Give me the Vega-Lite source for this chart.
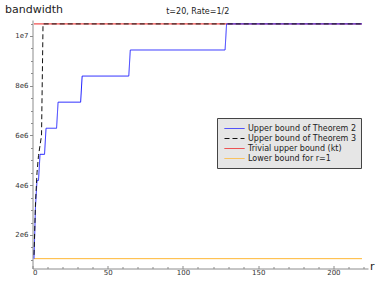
{
  "$schema": "https://vega.github.io/schema/vega-lite/v6.json",
  "width": 335.5,
  "height": 248.5,
  "autosize": {"type": "none"},
  "padding": {"left": 32.5, "top": 20, "right": 13, "bottom": 15.5},
  "background": "white",
  "config": {
    "view": {"stroke": null},
    "font": "DejaVu Sans",
    "axis": {"grid": false, "domainColor": "#8c8c8c", "tickColor": "#8c8c8c", "labelColor": "#333333", "labelFontSize": 7, "labelFont": "DejaVu Sans"}
  },
  "title": {"text": "t=20, Rate=1/2", "fontSize": 8, "fontWeight": "normal", "color": "#222222", "anchor": "middle", "baseline": "alphabetic", "offset": -19, "dx": -2.5},
  "datasets": {
    "lines": [
      {"r": 1, "v": 10485760, "s": "Trivial upper bound (kt)"},
      {"r": 219, "v": 10485760, "s": "Trivial upper bound (kt)"},
      {"r": 1, "v": 1048576, "s": "Lower bound for r=1"},
      {"r": 219, "v": 1048576, "s": "Lower bound for r=1"},
      {"r": 1, "v": 1048576, "s": "Upper bound of Theorem 2"},
      {"r": 2, "v": 3145728, "s": "Upper bound of Theorem 2"},
      {"r": 3, "v": 4194304, "s": "Upper bound of Theorem 2"},
      {"r": 4, "v": 4194304, "s": "Upper bound of Theorem 2"},
      {"r": 5, "v": 5242880, "s": "Upper bound of Theorem 2"},
      {"r": 8, "v": 5242880, "s": "Upper bound of Theorem 2"},
      {"r": 9, "v": 6291456, "s": "Upper bound of Theorem 2"},
      {"r": 16, "v": 6291456, "s": "Upper bound of Theorem 2"},
      {"r": 17, "v": 7340032, "s": "Upper bound of Theorem 2"},
      {"r": 32, "v": 7340032, "s": "Upper bound of Theorem 2"},
      {"r": 33, "v": 8388608, "s": "Upper bound of Theorem 2"},
      {"r": 64, "v": 8388608, "s": "Upper bound of Theorem 2"},
      {"r": 65, "v": 9437184, "s": "Upper bound of Theorem 2"},
      {"r": 128, "v": 9437184, "s": "Upper bound of Theorem 2"},
      {"r": 129, "v": 10485760, "s": "Upper bound of Theorem 2"},
      {"r": 219, "v": 10485760, "s": "Upper bound of Theorem 2"},
      {"r": 1, "v": 1200000, "s": "Upper bound of Theorem 3"},
      {"r": 2, "v": 3300000, "s": "Upper bound of Theorem 3"},
      {"r": 3, "v": 4500000, "s": "Upper bound of Theorem 3"},
      {"r": 4, "v": 5200000, "s": "Upper bound of Theorem 3"},
      {"r": 5, "v": 5600000, "s": "Upper bound of Theorem 3"},
      {"r": 6, "v": 6000000, "s": "Upper bound of Theorem 3"},
      {"r": 7, "v": 10485760, "s": "Upper bound of Theorem 3"},
      {"r": 219, "v": 10485760, "s": "Upper bound of Theorem 3"}
    ],
    "minorx": [{"t": 10}, {"t": 20}, {"t": 30}, {"t": 40}, {"t": 60}, {"t": 70}, {"t": 80}, {"t": 90}, {"t": 110}, {"t": 120}, {"t": 130}, {"t": 140}, {"t": 160}, {"t": 170}, {"t": 180}, {"t": 190}, {"t": 210}, {"t": 220}],
    "minory": [{"u": 1000000}, {"u": 1500000}, {"u": 2500000}, {"u": 3000000}, {"u": 3500000}, {"u": 4500000}, {"u": 5000000}, {"u": 5500000}, {"u": 6500000}, {"u": 7000000}, {"u": 7500000}, {"u": 8500000}, {"u": 9000000}, {"u": 9500000}, {"u": 10500000}]
  },
  "resolve": {"axis": {"x": "independent", "y": "independent"}},
  "layer": [
    {
      "data": {"name": "lines"},
      "mark": {"type": "line", "strokeWidth": 1, "clip": true},
      "encoding": {
        "x": {"field": "r", "type": "quantitative", "scale": {"domain": [0, 223], "nice": false, "zero": false},
          "axis": {"orient": "bottom", "values": [0, 50, 100, 150, 200], "tickSize": -3, "labelPadding": 2.5, "title": "r", "titleFontSize": 11, "titleFontWeight": "normal", "titleColor": "#222222", "titleAngle": 0, "titleAlign": "left", "titleBaseline": "alphabetic", "titleX": 337, "titleY": 1, "domainWidth": 1}},
        "y": {"field": "v", "type": "quantitative", "scale": {"domain": [653000, 10643000], "nice": false, "zero": false},
          "axis": {"orient": "left", "values": [2000000, 4000000, 6000000, 8000000, 10000000], "labelExpr": "datum.value >= 10000000 ? '1e7' : (datum.value/1000000) + 'e6'", "tickSize": 3, "labelPadding": 1.5, "title": "bandwidth", "titleFontSize": 11, "titleFontWeight": "normal", "titleColor": "#222222", "titleAngle": 0, "titleAlign": "left", "titleBaseline": "alphabetic", "titleX": -28, "titleY": -8}},
        "color": {"field": "s", "type": "nominal",
          "scale": {"domain": ["Upper bound of Theorem 2", "Upper bound of Theorem 3", "Trivial upper bound (kt)", "Lower bound for r=1"], "range": ["#2222ff", "#111111", "#ee2222", "#ffb733"]},
          "legend": {"title": null, "orient": "none", "legendX": 184.5, "legendY": 98, "symbolType": "M-2,0H2", "symbolSize": 100, "symbolStrokeWidth": 1, "symbolOffset": 7, "labelFontSize": 8, "labelColor": "#222222", "labelOffset": 8, "rowPadding": 0, "fillColor": "#e6e6e6", "strokeColor": "#444444", "padding": 5, "cornerRadius": 0}},
        "strokeDash": {"field": "s", "type": "nominal",
          "scale": {"domain": ["Upper bound of Theorem 2", "Upper bound of Theorem 3", "Trivial upper bound (kt)", "Lower bound for r=1"], "range": [[1, 0], [5, 3], [1, 0], [1, 0]]},
          "legend": {"title": null}},
        "order": {"field": "r", "type": "quantitative"}
      }
    },
    {
      "data": {"name": "minorx"},
      "mark": {"type": "point", "opacity": 0},
      "encoding": {
        "x": {"field": "t", "type": "quantitative", "axis": {"orient": "bottom", "values": [10, 20, 30, 40, 60, 70, 80, 90, 110, 120, 130, 140, 160, 170, 180, 190, 210, 220], "labels": false, "tickSize": -2, "domain": false, "title": null}},
        "y": {"datum": 1000000, "type": "quantitative", "axis": null}
      }
    },
    {
      "data": {"name": "minory"},
      "mark": {"type": "point", "opacity": 0},
      "encoding": {
        "y": {"field": "u", "type": "quantitative", "axis": {"orient": "left", "values": [1000000, 1500000, 2500000, 3000000, 3500000, 4500000, 5000000, 5500000, 6500000, 7000000, 7500000, 8500000, 9000000, 9500000, 10500000], "labels": false, "tickSize": 2, "domain": false, "title": null}},
        "x": {"datum": 1, "type": "quantitative", "axis": null}
      }
    }
  ]
}
